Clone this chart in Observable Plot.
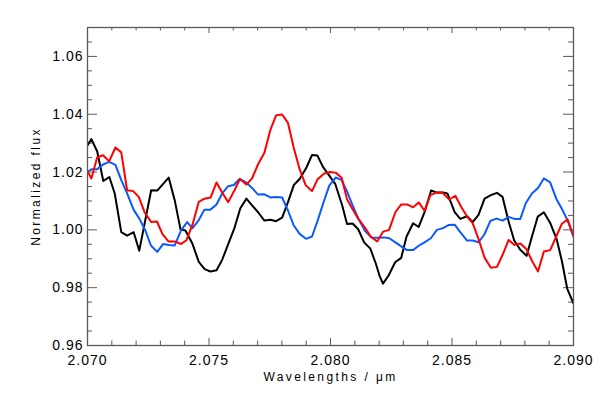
<!DOCTYPE html>
<html>
<head>
<meta charset="utf-8">
<script src="https://cdn.jsdelivr.net/npm/d3@7"></script>
<script src="https://cdn.jsdelivr.net/npm/@observablehq/plot@0.6"></script>
<style>
  html, body { margin: 0; padding: 0; background: #fff; }
  #chart svg { display: block; }
  #chart [aria-label="x-axis tick label"] text,
  #chart [aria-label="y-axis tick label"] text { letter-spacing: 1px; }
  #chart [aria-label="text"] text { letter-spacing: 2.4px; }
</style>
</head>
<body>
<div id="chart"></div>
<script>
// ---- Data ----
const blackWl = [2.0700, 2.07016, 2.07040, 2.07065, 2.07090, 2.07112, 2.07139, 2.07163, 2.07190, 2.07213, 2.07262, 2.07287, 2.07334, 2.07359, 2.07383, 2.07403, 2.07431, 2.07458, 2.07482, 2.07506, 2.07531, 2.07554, 2.07579, 2.07605, 2.07629, 2.07654, 2.07677, 2.07702, 2.07728, 2.07753, 2.07776, 2.07801, 2.07825, 2.07849, 2.07873, 2.07900, 2.07924, 2.07946, 2.07969, 2.07992, 2.08020, 2.08048, 2.08068, 2.08091, 2.08114, 2.08139, 2.08164, 2.08187, 2.08202, 2.08216, 2.08239, 2.08266, 2.08291, 2.08313, 2.08340, 2.08363, 2.08387, 2.08414, 2.08438, 2.08463, 2.08481, 2.08511, 2.08534, 2.08562, 2.08585, 2.08609, 2.08634, 2.08660, 2.08685, 2.08708, 2.08733, 2.08756, 2.08781, 2.08807, 2.08829, 2.08853, 2.08878, 2.08904, 2.08930, 2.08952, 2.08974, 2.09000];
const blackFlux = [1.0292, 1.0314, 1.0271, 1.0169, 1.0183, 1.0126, 0.9992, 0.9980, 0.9992, 0.9928, 1.0137, 1.0136, 1.0181, 1.0102, 1.0001, 0.9998, 0.9954, 0.9889, 0.9864, 0.9856, 0.9860, 0.9896, 0.9951, 1.0007, 1.0075, 1.0108, 1.0085, 1.0061, 1.0032, 1.0035, 1.0030, 1.0042, 1.0096, 1.0155, 1.0176, 1.0214, 1.0259, 1.0257, 1.0218, 1.0191, 1.0158, 1.0085, 1.0020, 1.0022, 1.0002, 0.9956, 0.9935, 0.9882, 0.9841, 0.9814, 0.9842, 0.9888, 0.9903, 0.9977, 1.0023, 1.0010, 1.0061, 1.0136, 1.0129, 1.0129, 1.0126, 1.0061, 1.0038, 1.0047, 1.0027, 1.0052, 1.0108, 1.0120, 1.0128, 1.0114, 1.0029, 0.9963, 0.9931, 0.9910, 0.9977, 1.0046, 1.0061, 1.0024, 0.9970, 0.9893, 0.9797, 0.9745];

const redWl = [2.0700, 2.07016, 2.07040, 2.07064, 2.07089, 2.07115, 2.07139, 2.07163, 2.07188, 2.07211, 2.07236, 2.07262, 2.07286, 2.07308, 2.07333, 2.07359, 2.07385, 2.07407, 2.07432, 2.07458, 2.07481, 2.07507, 2.07531, 2.07554, 2.07579, 2.07605, 2.07627, 2.07654, 2.07677, 2.07702, 2.07728, 2.07753, 2.07776, 2.07801, 2.07825, 2.07849, 2.07873, 2.07898, 2.07924, 2.07946, 2.07974, 2.07998, 2.08021, 2.08046, 2.08068, 2.08091, 2.08116, 2.08141, 2.08165, 2.08192, 2.08217, 2.08241, 2.08267, 2.08291, 2.08315, 2.08340, 2.08363, 2.08387, 2.08411, 2.08435, 2.08461, 2.08489, 2.08514, 2.08538, 2.08562, 2.08585, 2.08609, 2.08634, 2.08660, 2.08685, 2.08708, 2.08733, 2.08757, 2.08781, 2.08806, 2.08829, 2.08854, 2.08878, 2.08904, 2.08929, 2.08952, 2.08976, 2.09000];
const redFlux = [1.0203, 1.0178, 1.0251, 1.0258, 1.0237, 1.0285, 1.0268, 1.0137, 1.0134, 1.0114, 1.0059, 1.0027, 1.0029, 0.9986, 0.9960, 0.9960, 0.9951, 0.9964, 1.0018, 1.0097, 1.0108, 1.0112, 1.0164, 1.0129, 1.0096, 1.0137, 1.0176, 1.0157, 1.0178, 1.0227, 1.0267, 1.0347, 1.0396, 1.0399, 1.0370, 1.0283, 1.0210, 1.0154, 1.0134, 1.0174, 1.0195, 1.0200, 1.0198, 1.0180, 1.0106, 1.0071, 1.0036, 1.0009, 0.9977, 0.9960, 0.9994, 1.0000, 1.0061, 1.0088, 1.0088, 1.0078, 1.0095, 1.0066, 1.0120, 1.0129, 1.0128, 1.0105, 1.0118, 1.0079, 1.0046, 1.0023, 0.9969, 0.9904, 0.9869, 0.9872, 0.9913, 0.9965, 0.9948, 0.9953, 0.9934, 0.9893, 0.9856, 0.9925, 0.9930, 0.9977, 1.0021, 1.0036, 0.9977];

const blueWl = [2.0700, 2.07018, 2.07040, 2.07064, 2.07089, 2.07115, 2.07139, 2.07163, 2.07190, 2.07214, 2.07239, 2.07261, 2.07287, 2.07311, 2.07334, 2.07359, 2.07385, 2.07410, 2.07432, 2.07458, 2.07481, 2.07506, 2.07531, 2.07554, 2.07579, 2.07602, 2.07626, 2.07654, 2.07677, 2.07702, 2.07728, 2.07753, 2.07776, 2.07801, 2.07825, 2.07849, 2.07873, 2.07899, 2.07924, 2.07947, 2.07970, 2.07995, 2.08021, 2.08045, 2.08067, 2.08091, 2.08115, 2.08141, 2.08168, 2.08196, 2.08219, 2.08242, 2.08267, 2.08291, 2.08315, 2.08340, 2.08363, 2.08387, 2.08413, 2.08438, 2.08463, 2.08487, 2.08511, 2.08534, 2.08562, 2.08586, 2.08609, 2.08633, 2.08658, 2.08683, 2.08709, 2.08733, 2.08757, 2.08781, 2.08804, 2.08829, 2.08854, 2.08878, 2.08904, 2.08929, 2.08952, 2.08976, 2.09000];
const blueFlux = [1.0201, 1.0210, 1.0210, 1.0226, 1.0235, 1.0225, 1.0172, 1.0126, 1.0069, 1.0038, 0.9996, 0.9946, 0.9924, 0.9951, 0.9948, 0.9946, 0.9998, 1.0027, 1.0006, 1.0034, 1.0070, 1.0070, 1.0088, 1.0126, 1.0151, 1.0155, 1.0176, 1.0163, 1.0145, 1.0122, 1.0123, 1.0112, 1.0114, 1.0112, 1.0067, 1.0015, 0.9986, 0.9969, 0.9977, 1.0032, 1.0092, 1.0153, 1.0181, 1.0173, 1.0135, 1.0085, 1.0038, 0.9998, 0.9974, 0.9973, 0.9974, 0.9971, 0.9957, 0.9943, 0.9930, 0.9930, 0.9945, 0.9957, 0.9971, 1.0000, 1.0006, 1.0017, 1.0018, 0.9992, 0.9963, 0.9963, 0.9957, 0.9984, 1.0031, 1.0039, 1.0032, 1.0045, 1.0038, 1.0038, 1.0093, 1.0126, 1.0145, 1.0178, 1.0164, 1.0108, 1.0073, 1.0032, 0.9977];

// ---- Axis ticks and labels ----
const xMajorTicks = [2.070, 2.075, 2.080, 2.085, 2.090];
const xMinorTicks = [2.071, 2.072, 2.073, 2.074, 2.076, 2.077, 2.078, 2.079, 2.081, 2.082, 2.083, 2.084, 2.086, 2.087, 2.088, 2.089];
const yMajorTicks = [0.96, 0.98, 1.00, 1.02, 1.04, 1.06];
const yMinorTicks = [0.965, 0.97, 0.975, 0.985, 0.99, 0.995, 1.005, 1.01, 1.015, 1.025, 1.03, 1.035, 1.045, 1.05, 1.055, 1.065];
const xTitle = "Wavelengths / \u03bcm";
const yTitle = "Normalized flux";

const zip = (w, f) => w.map((x, i) => ({wl: x, flux: f[i]}));
const blackData = zip(blackWl, blackFlux);
const redData = zip(redWl, redFlux);
const blueData = zip(blueWl, blueFlux);

const W = 600, H = 400, mL = 87, mR = 27, mT = 27, mB = 55;
const pw = W - mL - mR, ph = H - mT - mB;
const axisColor = "#5a5a5a";
const font = "'Liberation Sans', Arial, Helvetica, sans-serif";

const chart = Plot.plot({
  width: W, height: H,
  marginLeft: mL, marginRight: mR, marginTop: mT, marginBottom: mB,
  style: {fontFamily: font, background: "white", color: "black", overflow: "visible"},
  x: {domain: [2.07, 2.09]},
  y: {domain: [0.96, 1.07]},
  marks: [
    // inward ticks on all four sides
    Plot.tickX(xMajorTicks, {x: d => d, insetTop: ph - 7, stroke: axisColor}),
    Plot.tickX(xMajorTicks, {x: d => d, insetBottom: ph - 6, stroke: axisColor}),
    Plot.tickX(xMinorTicks, {x: d => d, insetTop: ph - 4.5, stroke: axisColor}),
    Plot.tickX(xMinorTicks, {x: d => d, insetBottom: ph - 3.5, stroke: axisColor}),
    Plot.tickY(yMajorTicks, {y: d => d, insetRight: pw - 10, stroke: axisColor}),
    Plot.tickY(yMajorTicks, {y: d => d, insetLeft: pw - 10, stroke: axisColor}),
    Plot.tickY(yMinorTicks, {y: d => d, insetRight: pw - 5, stroke: axisColor}),
    Plot.tickY(yMinorTicks, {y: d => d, insetLeft: pw - 5, stroke: axisColor}),
    // spectra
    Plot.line(blackData, {x: "wl", y: "flux", stroke: "#000000", strokeWidth: 2, clip: true}),
    Plot.line(blueData, {x: "wl", y: "flux", stroke: "#0a5aff", strokeWidth: 2, clip: true}),
    Plot.line(redData, {x: "wl", y: "flux", stroke: "#ff0000", strokeWidth: 2, clip: true}),
    Plot.frame({stroke: axisColor, strokeWidth: 1.3}),
    // tick labels
    Plot.axisX(xMajorTicks, {anchor: "bottom", tickSize: 0, tickPadding: 10, tickFormat: d => d.toFixed(3), fontSize: 14, label: null}),
    Plot.axisY(yMajorTicks, {anchor: "left", tickSize: 0, tickPadding: 4, tickFormat: d => d.toFixed(2), fontSize: 14, label: null}),
    // axis titles
    Plot.text([xTitle], {text: d => d, frameAnchor: "bottom", dy: 35, fontSize: 12, textAnchor: "middle"}),
    Plot.text([yTitle], {text: d => d, frameAnchor: "left", dx: -51, rotate: -90, fontSize: 12, textAnchor: "middle"})
  ]
});
document.getElementById("chart").appendChild(chart);
</script>
</body>
</html>
